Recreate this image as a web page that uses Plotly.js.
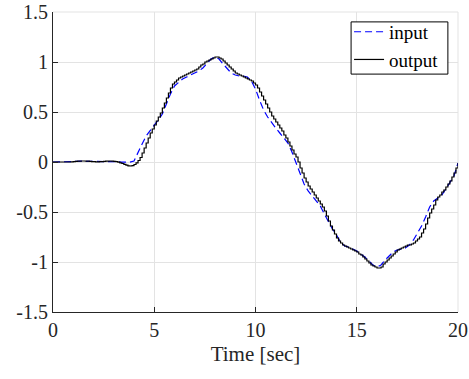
<!DOCTYPE html>
<html>
<head>
<meta charset="utf-8">
<script src="https://cdn.plot.ly/plotly-3.0.1.min.js"></script>
<style>html,body{margin:0;padding:0;background:#fff;}#chart{width:469px;height:379px;}</style>
</head>
<body>
<div id="chart"></div>
<script>
// input signal, sampled every 0.2 s
var inputT = [];
for (var i = 0; i <= 100; i++) inputT.push(+(i * 0.2).toFixed(1));
var inputY = [
  0, 0, 0, 0, 0, 0.003, 0.006, 0.008, 0.008, 0.006,
  0.003, 0.001, 0.002, 0.005, 0.007, 0.006, 0.002, -0.002, -0.003, -0.002,
  0.01, 0.10, 0.18, 0.26, 0.32, 0.37, 0.42, 0.48, 0.58, 0.68,
  0.76, 0.80, 0.83, 0.85, 0.87, 0.89, 0.91, 0.94, 0.99, 1.03,
  1.05, 1.03, 0.98, 0.93, 0.89, 0.87, 0.86, 0.86, 0.85, 0.81,
  0.73, 0.62, 0.52, 0.45, 0.39, 0.34, 0.29, 0.24, 0.19, 0.10,
  -0.01, -0.13, -0.22, -0.29, -0.34, -0.39, -0.44, -0.52, -0.60, -0.67,
  -0.73, -0.80, -0.84, -0.85, -0.87, -0.89, -0.92, -0.95, -0.99, -1.03,
  -1.05, -1.03, -0.98, -0.94, -0.90, -0.88, -0.87, -0.86, -0.83, -0.78,
  -0.71, -0.64, -0.55, -0.45, -0.39, -0.36, -0.33, -0.27, -0.21, -0.14,
  -0.01
];
// output signal, sampled every 0.1 s (zero-order hold)
var outputT = [];
for (var j = 0; j <= 200; j++) outputT.push(+(j * 0.1).toFixed(1));
var outputY = [
  0, 0, 0, 0, 0, 0, 0, 0, 0, 0.002,
  0.004, 0.006, 0.008, 0.009, 0.010, 0.010, 0.009, 0.008, 0.006, 0.004,
  0.003, 0.002, 0.002, 0.003, 0.004, 0.006, 0.008, 0.009, 0.010, 0.009,
  0.007, 0.003, -0.002, -0.008, -0.015, -0.024, -0.032, -0.038, -0.040, -0.036,
  -0.025, -0.008, 0.015, 0.045, 0.09, 0.14, 0.19, 0.24, 0.29, 0.33,
  0.37, 0.41, 0.45, 0.49, 0.54, 0.59, 0.64, 0.69, 0.74, 0.78,
  0.80, 0.82, 0.84, 0.85, 0.86, 0.87, 0.88, 0.89, 0.90, 0.91,
  0.92, 0.93, 0.95, 0.97, 0.98, 1.00, 1.01, 1.02, 1.03, 1.04,
  1.05, 1.05, 1.04, 1.03, 1.01, 0.99, 0.97, 0.95, 0.93, 0.91,
  0.89, 0.88, 0.87, 0.86, 0.85, 0.84, 0.83, 0.82, 0.81, 0.79,
  0.77, 0.74, 0.70, 0.66, 0.62, 0.58, 0.54, 0.50, 0.46, 0.43,
  0.40, 0.37, 0.34, 0.31, 0.27, 0.24, 0.20, 0.16, 0.12, 0.08,
  0.05, 0.00, -0.06, -0.11, -0.16, -0.20, -0.24, -0.27, -0.30, -0.33,
  -0.36, -0.39, -0.42, -0.45, -0.49, -0.54, -0.59, -0.64, -0.68, -0.72,
  -0.76, -0.79, -0.81, -0.83, -0.84, -0.85, -0.86, -0.87, -0.88, -0.89,
  -0.90, -0.92, -0.93, -0.95, -0.97, -0.99, -1.01, -1.03, -1.04, -1.05,
  -1.06, -1.06, -1.05, -1.02, -1.00, -0.98, -0.96, -0.94, -0.92, -0.90,
  -0.88, -0.87, -0.86, -0.85, -0.84, -0.83, -0.83, -0.82, -0.81, -0.79,
  -0.77, -0.75, -0.71, -0.67, -0.62, -0.56, -0.51, -0.47, -0.43, -0.38,
  -0.35, -0.33, -0.30, -0.28, -0.25, -0.22, -0.19, -0.15, -0.11, -0.06,
  -0.01
];
var xTickVals = [0, 5, 10, 15, 20];
var xTickText = ['0', '5', '10', '15', '20'];
var yTickVals = [-1.5, -1, -0.5, 0, 0.5, 1, 1.5];
var yTickText = ['-1.5', '-1', '-0.5', '0', '0.5', '1', '1.5'];
var seriesNames = ['input', 'output'];
var xLabel = 'Time [sec]';

var font = "'Liberation Serif', 'DejaVu Serif', serif";
var axisColor = '#262626';

var traces = [
  {x: inputT, y: inputY, name: seriesNames[0], type: 'scatter', mode: 'lines',
   line: {color: '#0000ff', width: 1.2, dash: '7px,4px'}},
  {x: outputT, y: outputY, name: seriesNames[1], type: 'scatter', mode: 'lines',
   line: {color: '#000000', width: 1.2, shape: 'hv'}}
];

var layout = {
  width: 469, height: 379,
  margin: {l: 53, r: 11, t: 12, b: 67},
  paper_bgcolor: '#ffffff', plot_bgcolor: '#ffffff',
  font: {family: font, size: 20, color: axisColor},
  showlegend: true,
  legend: {
    x: 0.731, y: 0.997, xanchor: 'left', yanchor: 'top',
    bgcolor: 'rgba(0,0,0,0)', borderwidth: 0,
    font: {family: font, size: 19, color: '#000000'},
    tracegroupgap: 0, itemwidth: 30
  },
  xaxis: {
    range: [0, 20], tickmode: 'array', tickvals: xTickVals, ticktext: xTickText,
    showgrid: true, gridcolor: '#e3e3e3', gridwidth: 1,
    showline: true, linecolor: axisColor, linewidth: 1,
    ticks: 'inside', ticklen: 5, tickcolor: axisColor,
    zeroline: false,
    tickfont: {family: font, size: 20, color: axisColor},
    title: {text: xLabel, font: {family: font, size: 21, color: axisColor}, standoff: 6}
  },
  yaxis: {
    range: [-1.5, 1.5], tickmode: 'array', tickvals: yTickVals, ticktext: yTickText,
    showgrid: true, gridcolor: '#e3e3e3', gridwidth: 1,
    showline: true, linecolor: axisColor, linewidth: 1,
    ticks: 'inside', ticklen: 5, tickcolor: axisColor,
    zeroline: false,
    tickfont: {family: font, size: 20, color: axisColor}
  },
  shapes: [
    {type: 'line', xref: 'paper', yref: 'paper', x0: 0, x1: 1, y0: 1, y1: 1,
     line: {color: '#e3e3e3', width: 1}, layer: 'below'},
    {type: 'line', xref: 'paper', yref: 'paper', x0: 1, x1: 1, y0: 0, y1: 1,
     line: {color: '#e3e3e3', width: 1}, layer: 'below'},
    {type: 'rect', xref: 'paper', yref: 'paper', x0: 0.736, x1: 0.975, y0: 0.793, y1: 0.967,
     fillcolor: '#ffffff', line: {color: '#000000', width: 1}, layer: 'above'}
  ]
};

Plotly.newPlot('chart', traces, layout, {displayModeBar: false, staticPlot: true});
</script>
</body>
</html>
